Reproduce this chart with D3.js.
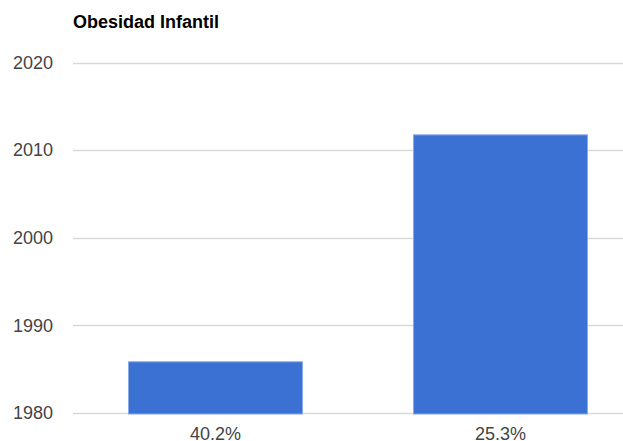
<!DOCTYPE html>
<html><head><meta charset="utf-8">
<script src="https://cdn.jsdelivr.net/npm/d3@7"></script>
<style>body{margin:0;background:#fff;} svg{display:block;}</style>
</head><body>
<script>
const categories = ["40.2%", "25.3%"];
const values = [1985.9, 2011.8];
const yTicks = [1980, 1990, 2000, 2010, 2020];
const title = "Obesidad Infantil";

const W = 623, H = 441;
const svg = d3.select("body").append("svg").attr("width", W).attr("height", H);
const font = "Liberation Sans, Arial, sans-serif";

const y = d3.scaleLinear().domain([1980, 2020]).range([413, 62.5]);
const x = d3.scaleBand().domain(categories).range([73, 643]).paddingInner(0.386).paddingOuter(0.193);

// gridlines
svg.append("g").selectAll("line").data(yTicks).join("line")
  .attr("x1", 73).attr("x2", W)
  .attr("y1", d => Math.round(y(d)) + 0.5).attr("y2", d => Math.round(y(d)) + 0.5)
  .attr("stroke", "#d9d9d9").attr("stroke-width", 1.4);

// y labels
svg.append("g").selectAll("text").data(yTicks).join("text")
  .attr("x", 53).attr("y", d => y(d)).attr("dy", "0.35em")
  .attr("text-anchor", "end").attr("font-family", font).attr("font-size", 18)
  .attr("fill", "#444").text(d => d);

// bars
svg.append("g").selectAll("rect").data(values).join("rect")
  .attr("x", (d, i) => x(categories[i]) + 0.5)
  .attr("width", x.bandwidth() - 1)
  .attr("y", d => y(d) + 0.5)
  .attr("height", d => y(1980) - y(d) + 0.5)
  .attr("fill", "#3b71d3").attr("stroke", "#8aa9e6").attr("stroke-width", 1);

// x labels
svg.append("g").selectAll("text").data(categories).join("text")
  .attr("x", d => x(d) + x.bandwidth() / 2).attr("y", 440)
  .attr("text-anchor", "middle").attr("font-family", font).attr("font-size", 18)
  .attr("fill", "#444").text(d => d);

// title
svg.append("text").attr("x", 73).attr("y", 28)
  .attr("font-family", font).attr("font-size", 18).attr("font-weight", "bold")
  .attr("fill", "#000").text(title);
</script>
</body></html>
